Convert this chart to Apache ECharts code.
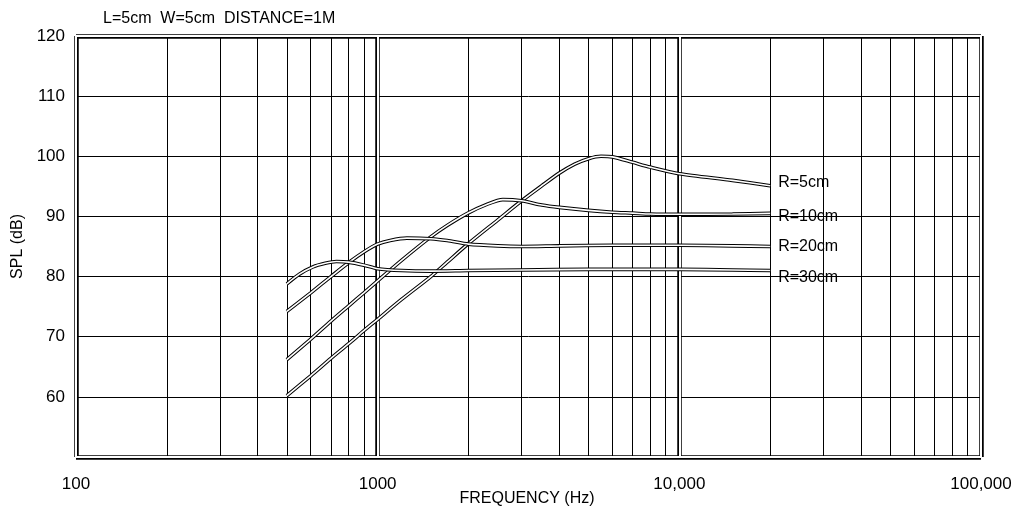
<!DOCTYPE html>
<html><head><meta charset="utf-8">
<script src="https://cdn.jsdelivr.net/npm/echarts@6/dist/echarts.min.js"></script>
<style>html,body{margin:0;padding:0;background:#fff}#c{width:1026px;height:512px}</style>
</head><body><div id="c"></div>
<script>
var titleText = 'L=5cm  W=5cm  DISTANCE=1M';
var xAxisName = 'FREQUENCY (Hz)';
var seriesNames = ['R=5cm','R=10cm','R=20cm','R=30cm'];
var f5  = [500,600,700,800,900,1000,1200,1500,1700,2000,2500,3000,3500,4000,4500,5000,5500,6000,7000,8000,10000,15000,20000];
var r5  = [60.2,63.5,66.4,68.8,71.0,72.9,76.2,80.0,82.4,85.5,89.4,92.6,95.1,97.2,98.7,99.6,100,99.9,99.0,98.2,97.1,96.0,95.1];
var f10 = [500,600,700,800,900,1000,1200,1500,1700,2000,2300,2600,3000,3500,4000,5000,6000,7000,8000,10000,15000,20000];
var r10 = [66.2,69.6,72.6,75.1,77.3,79.3,82.7,86.6,88.5,90.6,92.0,92.8,92.6,91.9,91.5,91.0,90.7,90.55,90.4,90.35,90.4,90.5];
var f20 = [500,600,700,800,900,1000,1100,1250,1500,1700,2000,2500,3000,4000,6000,8000,10000,15000,20000];
var r20 = [74.2,77.3,80.0,82.3,84.1,85.4,86.0,86.4,86.3,86.0,85.4,85.1,85.0,85.1,85.2,85.2,85.2,85.1,85.0];
var f30 = [500,550,610,670,730,800,900,1000,1200,1500,2000,3000,5000,10000,15000,20000];
var r30 = [78.8,80.4,81.6,82.2,82.5,82.4,81.9,81.3,81.0,80.9,81.0,81.1,81.2,81.2,81.1,81.0];
var xTickLabels = {100:'100',1000:'1000',10000:'10,000',100000:'100,000'};
var minorFreqs = [200,300,400,500,600,700,800,900,2000,3000,4000,5000,6000,7000,8000,9000,20000,30000,40000,50000,60000,70000,80000,90000];
var decadeFreqs = [100,1000,10000,100000];
var yBorders = [50,120];

var allFreqs = [f5,f10,f20,f30];
var allValues = [r5,r10,r20,r30];
var labelOffsets = [[0,-3],[0,3],[0,0],[0,7]];
var FONT = 'Liberation Sans';
var series = [];
series.push({type:'line', data:[], silent:true, z:1,
  markLine:{silent:true, symbol:'none', label:{show:false}, animation:false,
    lineStyle:{color:'#000', width:1, type:'solid'},
    data: minorFreqs.map(function(f){return {xAxis:f};})}});
series.push({type:'line', data:[], silent:true, z:2,
  markLine:{silent:true, symbol:'none', label:{show:false}, animation:false,
    lineStyle:{color:'#000', width:4.5, type:'solid'},
    data: decadeFreqs.map(function(f){return {xAxis:f};}).concat(yBorders.map(function(v){return {yAxis:v};}))}});
series.push({type:'line', data:[], silent:true, z:3,
  markLine:{silent:true, symbol:'none', label:{show:false}, animation:false,
    lineStyle:{color:'#fff', width:2, type:'solid'},
    data: decadeFreqs.map(function(f){return {xAxis:f};}).concat(yBorders.map(function(v){return {yAxis:v};}))}});
allValues.forEach(function(vals, i){
  var fr = allFreqs[i];
  var d = fr.map(function(f,j){return [f, vals[j]];});
  series.push({type:'line', name:seriesNames[i]+'_o', data:d, smooth:0.25, symbol:'none', z:10+2*i,
    lineStyle:{color:'#000', width:3.6}, animation:false});
  series.push({type:'line', name:seriesNames[i], data:d, smooth:0.25, symbol:'none', z:11+2*i,
    lineStyle:{color:'#fff', width:1.6}, animation:false,
    endLabel:{show:true, formatter:seriesNames[i], color:'#000', fontFamily:FONT, fontSize:16, distance:8, offset:labelOffsets[i]}});
});

var chart = echarts.init(document.getElementById('c'), null, {renderer:'canvas'});
chart.setOption({
  backgroundColor:'#fff',
  animation:false,
  title:{text:titleText, left:98, top:6, textStyle:{fontFamily:FONT, fontSize:16, fontWeight:'normal', color:'#000'}},
  graphic:[{type:'text', x:527, y:491, silent:true,
    style:{text:xAxisName, textAlign:'center', textVerticalAlign:'top', font:'16px "Liberation Sans"', fill:'#000'}}],
  grid:{left:76, right:45, top:36, bottom:55, containLabel:false, outerBoundsMode:'none'},
  xAxis:{type:'log', logBase:10, min:100, max:100000,
    axisLine:{show:false}, axisTick:{show:false}, splitLine:{show:false},
    axisLabel:{fontFamily:FONT, fontSize:17, color:'#000', margin:19,
      formatter:function(v){return xTickLabels[Math.round(v)]||'';}}},
  yAxis:{type:'value', min:50, max:120, interval:10,
    name:'SPL (dB)', nameLocation:'middle', nameGap:43, nameRotate:90,
    nameTextStyle:{fontFamily:FONT, fontSize:16, color:'#000'},
    axisLine:{show:false}, axisTick:{show:false},
    splitLine:{show:true, lineStyle:{color:'#000', width:1}},
    axisLabel:{fontFamily:FONT, fontSize:17, color:'#000', margin:11,
      formatter:function(v){return v===50?'':String(v);}}},
  series:series
});
</script></body></html>
